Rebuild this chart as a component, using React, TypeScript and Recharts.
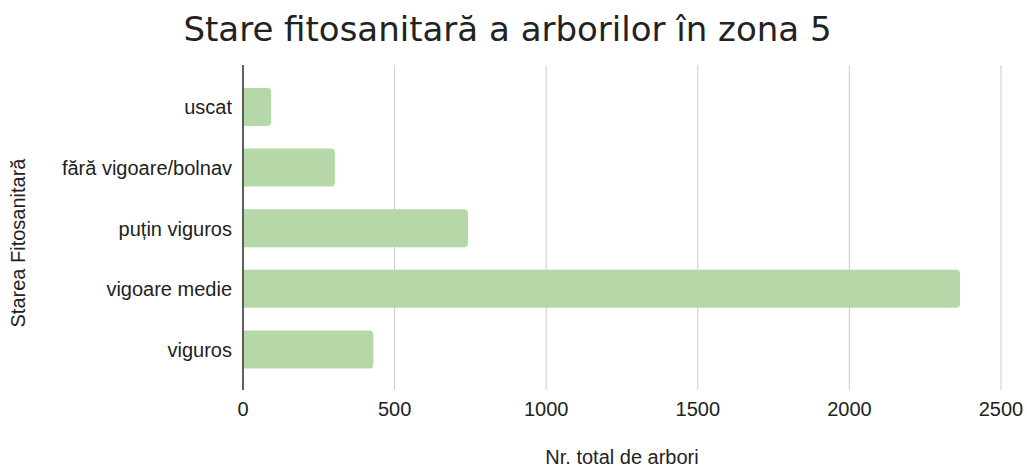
import React from 'react';
import { BarChart, Bar, XAxis, YAxis, CartesianGrid } from 'recharts';

const categories = ['uscat', 'fără vigoare/bolnav', 'puțin viguros', 'vigoare medie', 'viguros'];
const totals = [93, 303, 742, 2365, 430];
const xTicks = [0, 500, 1000, 1500, 2000, 2500];

const chartTitle = 'Stare fitosanitară a arborilor în zona 5';
const xTitle = 'Nr. total de arbori';
const yTitle = 'Starea Fitosanitară';

const data = categories.map((c, i) => ({ name: c, value: totals[i] }));

const FONT = 'Arial, "Liberation Sans", Helvetica, sans-serif';

export default function App() {
  return (
    <div style={{ position: 'absolute', left: 0, top: 0, width: 1027, height: 468, background: '#fff' }}>
      <div
        style={{
          position: 'absolute',
          left: 0,
          top: 0,
          width: 1015,
          textAlign: 'center',
          fontFamily: '"DejaVu Sans", Verdana, sans-serif',
          fontSize: 34,
          lineHeight: '34px',
          paddingTop: 12,
          color: '#222',
        }}
      >
        {chartTitle}
      </div>
      <BarChart
        width={1027}
        height={468}
        data={data}
        layout="vertical"
        margin={{ top: 65, right: 26, bottom: 48, left: 0 }}
        style={{ fontFamily: FONT }}
      >
        <CartesianGrid horizontal={false} stroke="#cccccc" />
        <XAxis
          type="number"
          domain={[0, 2500]}
          ticks={xTicks}
          axisLine={false}
          tickLine={false}
          tickMargin={6}
          height={30}
          tick={{ fill: '#222', fontSize: 20, fontFamily: FONT }}
          label={{ value: xTitle, position: 'bottom', offset: 30, fill: '#222', fontSize: 20, fontFamily: FONT }}
        />
        <YAxis
          type="category"
          dataKey="name"
          width={243}
          padding={{ top: 12, bottom: 10 }}
          axisLine={{ stroke: '#333', strokeWidth: 1.5 }}
          tickLine={false}
          tickMargin={5}
          tick={{ fill: '#222', fontSize: 20, fontFamily: FONT }}
          label={{
            content: (props: any) => {
              const vb = props.viewBox || { y: 65, height: 325 };
              const cy = vb.y + vb.height / 2 + 15.5;
              return (
                <text
                  x={25}
                  y={cy}
                  transform={`rotate(-90, 25, ${cy})`}
                  textAnchor="middle"
                  fill="#222"
                  fontSize={20}
                  fontFamily={FONT}
                >
                  {yTitle}
                </text>
              );
            },
          }}
        />
        <Bar dataKey="value" fill="#b6d7a8" barSize={38} radius={[0, 4, 4, 0]} isAnimationActive={false} />
      </BarChart>
    </div>
  );
}
